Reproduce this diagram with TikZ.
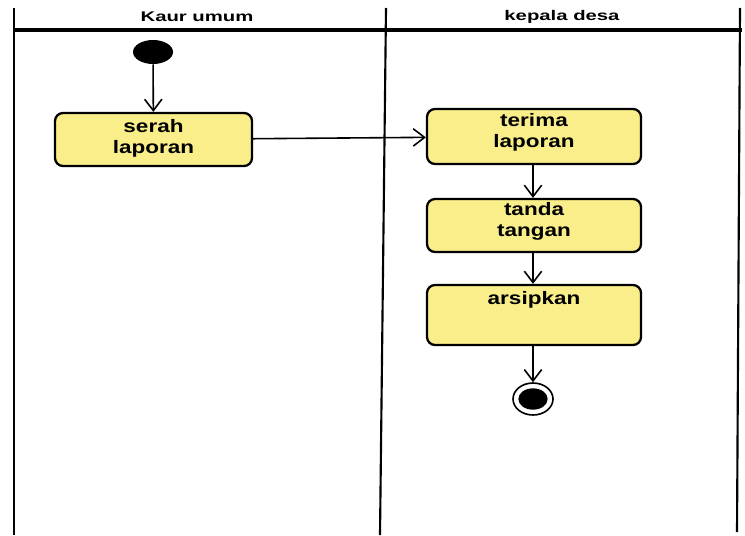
\documentclass[tikz,border=0pt]{standalone}
\usepackage{fontspec}
\setmainfont{Liberation Sans}
\usetikzlibrary{arrows.meta,shapes.geometric}
\definecolor{boxfill}{RGB}{249,238,138}
\newcommand{\bx}[1]{\scalebox{1.25}[1]{#1}}
\newcommand{\hx}[1]{\scalebox{1.45}[1]{#1}}
\tikzset{
  lane/.style={line width=1.6pt},
  actbox/.style={draw, line width=1.7pt, rounded corners=6pt, fill=boxfill, inner sep=0pt},
  acttext/.style={anchor=north, align=center, inner sep=0pt, font=\bfseries\fontsize{13.5}{16}\selectfont},
  headtext/.style={inner sep=0pt, font=\bfseries\fontsize{10.5}{12}\selectfont},
  flow/.style={line width=1.2pt, -{Straight Barb[length=8.5pt,width=13pt,line width=1.2pt]}},
}
\begin{document}
\begin{tikzpicture}[x=0.75pt,y=-0.75pt]
\useasboundingbox (0,0) rectangle (745,535);
% swimlane frame
\coordinate (lt) at (14,8);
\coordinate (lb) at (14,535);
\coordinate (mt) at (386,8);
\coordinate (mb) at (380,535);
\coordinate (rt) at (740,8);
\coordinate (rb) at (737,532);
\coordinate (hl) at (14,30);
\coordinate (hr) at (742,30);
\draw[lane] (lt) -- (lb);
\draw[lane] (mt) -- (mb);
\draw[lane] (rt) -- (rb);
\draw[line width=2.4pt] (hl) -- (hr);
\node[headtext] (h1) at (197,16.5) {\hx{Kaur umum}};
\node[headtext] (h2) at (562,16.5) {\hx{kepala desa}};
% initial node
\node[ellipse, fill=black, minimum width=30pt, minimum height=18pt, inner sep=0pt] (start) at (153,52) {};
% activity boxes
\node[actbox, minimum width=147.75pt, minimum height=39.75pt] (serah) at (153.5,139.5) {};
\node[actbox, minimum width=160.5pt, minimum height=41.25pt] (terima) at (534,136.5) {};
\node[actbox, minimum width=160.5pt, minimum height=39.75pt] (tanda) at (534,225.5) {};
\node[actbox, minimum width=160.5pt, minimum height=45pt] (arsip) at (534,315) {};
\node[acttext] (tserah) at (153.5,119) {\bx{serah}\\\bx{laporan}};
\node[acttext] (tterima) at (534,113) {\bx{terima}\\\bx{laporan}};
\node[acttext] (ttanda) at (534,202) {\bx{tanda}\\\bx{tangan}};
\node[acttext] (tarsip) at (534,291) {\bx{arsipkan}};
% final node
\node[ellipse, draw, line width=1.2pt, fill=white, minimum width=30pt, minimum height=24pt, inner sep=0pt] (end) at (533,399) {};
\node[ellipse, fill=black, minimum width=22pt, minimum height=16pt, inner sep=0pt] (endin) at (533,399) {};
% flows
\draw[flow] (start) -- (serah);
\draw[flow] (serah) -- (terima);
\draw[flow] (terima.south -| end) -- (tanda.north -| end);
\draw[flow] (tanda.south -| end) -- (arsip.north -| end);
\draw[flow] (arsip.south -| end) -- (end);
\end{tikzpicture}
\end{document}
